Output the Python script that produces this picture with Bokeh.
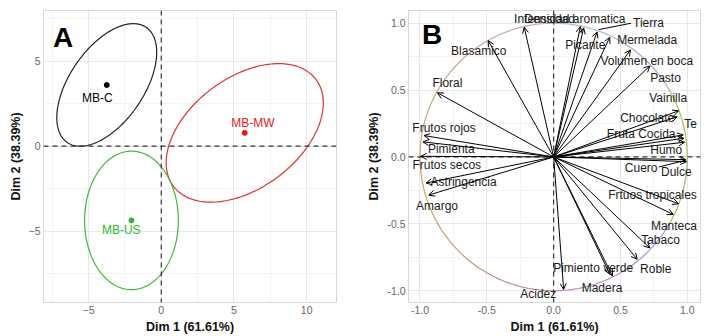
import numpy as np
from bokeh.plotting import figure
from bokeh.models import (ColumnDataSource, Span, Label, Arrow, OpenHead,
                          Range1d, FixedTicker)
from bokeh.layouts import row
from bokeh.embed import file_html
from bokeh.resources import INLINE
from bokeh.core.properties import value

# ---------------- Panel A data (individuals) ----------------
groups = ["MB-C", "MB-MW", "MB-US"]
dim1 = [-3.75, 5.74, -2.05]
dim2 = [3.6, 0.78, -4.37]
ell_sxx = [11.8, 29.2, 10.4]
ell_syy = [13.0, 16.6, 16.6]
ell_sxy = [6.6, 9.5, 0.0]
group_label_x = [-4.4, 6.3, -2.75]
group_label_y = [2.85, 1.35, -4.95]
group_colors = ["#000000", "#E41A1C", "#2EB82E"]
ell_colors = ["#222222", "#E03030", "#3CBB3C"]

# ---------------- Panel B data (variables) ----------------
variables = ["Intensidad aromatica", "Densidad", "Picante", "Tierra", "Mermelada",
             "Volumen en boca", "Pasto", "Vainilla", "Chocolate", "Te",
             "Fruta Cocida", "Humo", "Cuero", "Dulce", "Frtuos tropicales",
             "Manteca", "Tabaco", "Roble", "Madera", "Pimiento verde", "Acidez",
             "Amargo", "Astringencia", "Frutos secos", "Pimienta", "Frutos rojos",
             "Floral", "Blasamico"]
var_x = [0.20, -0.22, 0.225, 0.325, 0.42, 0.575, 0.72, 0.935, 0.925, 0.97,
         0.975, 0.98, 0.99, 0.995, 0.935, 0.895, 0.72, 0.625, 0.44, 0.42, 0.075,
         -0.935, -0.955, -0.995, -0.978, -0.97, -0.87, -0.49]
var_y = [0.975, 0.97, 0.965, 0.935, 0.895, 0.80, 0.68, 0.345, 0.30, 0.165,
         0.14, 0.11, -0.02, -0.035, -0.35, -0.43, -0.68, -0.765, -0.89, -0.875, -0.99,
         -0.285, -0.195, 0.005, 0.113, 0.16, 0.48, 0.87]
var_label_x = [0.121, -0.03, 0.237, 0.71, 0.70, 0.697, 0.837, 0.857, 0.70, 1.024,
               0.655, 0.843, 0.655, 0.918, 0.74, 0.90, 0.80, 0.764, 0.362, 0.296, -0.115,
               -0.873, -0.674, -0.80, -0.766, -0.82, -0.795, -0.56]
var_label_y = [1.035, 1.035, 0.839, 1.0, 0.877, 0.714, 0.589, 0.443, 0.293, 0.243,
               0.168, 0.05, -0.083, -0.113, -0.283, -0.514, -0.62, -0.84, -0.977, -0.827, -1.028,
               -0.368, -0.19, -0.063, 0.06, 0.22, 0.55, 0.79]
# repel connector segments (label -> point)
seg_x0 = [0.337, 0.787]
seg_y0 = [0.952, -0.075]
seg_x1 = [0.58, 0.987]
seg_y1 = [1.0, -0.025]

FONT = "Liberation Sans"
GRID_MAJOR = "#E8E8E8"
GRID_MINOR = "#F3F3F3"
BORDER = "#D6D6D6"
H = 336


def style(p, ticks, minor, xlabel, ylabel):
    for ax, tks in ((p.xaxis[0], ticks[0]), (p.yaxis[0], ticks[1])):
        ax.ticker = FixedTicker(ticks=tks)
        ax.axis_line_color = None
        ax.major_tick_line_color = None
        ax.minor_tick_line_color = None
        ax.major_tick_out = 0
        ax.major_tick_in = 0
        ax.minor_tick_out = 0
        ax.minor_tick_in = 0
        ax.major_label_text_font = FONT
        ax.major_label_text_font_size = "10.5px"
        ax.major_label_text_color = "#666666"
        ax.major_label_standoff = 3
        ax.axis_label_text_font = FONT
        ax.axis_label_text_font_size = "12.5px"
        ax.axis_label_text_font_style = "bold"
        ax.axis_label_text_color = "#111111"
        ax.axis_label_standoff = 3
    p.xaxis[0].axis_label = xlabel
    p.yaxis[0].axis_label = ylabel
    p.xgrid.ticker = FixedTicker(ticks=ticks[0], minor_ticks=minor[0])
    p.ygrid.ticker = FixedTicker(ticks=ticks[1], minor_ticks=minor[1])
    for g in (p.xgrid[0], p.ygrid[0]):
        g.grid_line_color = GRID_MAJOR
        g.grid_line_width = 1
        g.minor_grid_line_color = GRID_MINOR
        g.minor_grid_line_width = 1
    p.outline_line_color = BORDER
    p.outline_line_width = 1
    p.background_fill_color = "white"
    p.border_fill_color = "white"


# ---------------- Panel A ----------------
pA = figure(width=360, height=H, x_range=Range1d(-8.1, 12.05),
            y_range=Range1d(-9.2, 7.98), output_backend="svg",
            toolbar_location=None, min_border_left=43, min_border_right=24,
            min_border_top=10, min_border_bottom=32)
style(pA, ([-5, 0, 5, 10], [-5, 0, 5]), ([-7.5, -2.5, 2.5, 7.5], [-7.5, -2.5, 2.5, 7.5]),
      "Dim 1 (61.61%)", "Dim 2 (38.39%)")

t = np.linspace(0, 2 * np.pi, 200)
for i in range(len(groups)):
    S = np.array([[ell_sxx[i], ell_sxy[i]], [ell_sxy[i], ell_syy[i]]])
    L = np.linalg.cholesky(S)
    pts = L @ np.vstack([np.cos(t), np.sin(t)])
    pA.line(dim1[i] + pts[0], dim2[i] + pts[1], line_color=ell_colors[i], line_width=1.2)

for loc, dim in ((0, "height"), (0, "width")):
    pA.add_layout(Span(location=loc, dimension=dim, line_color="#333333",
                       line_dash="5 4", line_width=1.2))

srcA = ColumnDataSource(dict(x=dim1, y=dim2, lx=group_label_x, ly=group_label_y,
                             name=groups, color=group_colors))
pA.scatter("x", "y", source=srcA, size=5, color="color")
pA.text("lx", "ly", text="name", source=srcA, text_color="color",
        text_font=value(FONT), text_font_size="12px", text_align="center",
        text_baseline="middle")
pA.add_layout(Label(x=-7.45, y=7.3, text="A", text_font=FONT, text_font_size="28px",
                    text_font_style="bold", text_baseline="top", text_color="black"))

# ---------------- Panel B ----------------
pB = figure(width=351, height=H, x_range=Range1d(-1.086, 1.099),
            y_range=Range1d(-1.088, 1.095), output_backend="svg",
            toolbar_location=None, min_border_left=48, min_border_right=11,
            min_border_top=10, min_border_bottom=32)
tk = [-1.0, -0.5, 0.0, 0.5, 1.0]
mn = [-0.75, -0.25, 0.25, 0.75]
style(pB, (tk, tk), (mn, mn), "Dim 1 (61.61%)", "Dim 2 (38.39%)")
pB.xaxis[0].major_label_overrides = {-1.0: "-1.0", -0.5: "-0.5", 0.0: "0.0", 0.5: "0.5", 1.0: "1.0"}
pB.yaxis[0].major_label_overrides = {-1.0: "-1.0", -0.5: "-0.5", 0.0: "0.0", 0.5: "0.5", 1.0: "1.0"}

arc_colors = ["#A9C050", "#9AB0C8", "#A8B8D0", "#C8A8B4", "#C4A890", "#B8B070",
              "#C8A060", "#C09A6A", "#B8909C", "#C08CC0", "#A890D0", "#98BC5C"]
n_arcs = len(arc_colors)
for k in range(n_arcs):
    a = np.linspace(2 * np.pi * k / n_arcs, 2 * np.pi * (k + 1) / n_arcs, 30)
    pB.line(np.cos(a), np.sin(a), line_color=arc_colors[k], line_width=1.2)

for loc, dim in ((0, "height"), (0, "width")):
    pB.add_layout(Span(location=loc, dimension=dim, line_color="#333333",
                       line_dash="5 4", line_width=1.2))

srcB = ColumnDataSource(dict(x0=[0.0] * len(variables), y0=[0.0] * len(variables),
                             x=var_x, y=var_y, lx=var_label_x, ly=var_label_y,
                             name=variables))
pB.add_layout(Arrow(end=OpenHead(size=6, line_width=1, line_color="black"),
                    x_start="x0", y_start="y0", x_end="x", y_end="y",
                    source=srcB, line_color="black", line_width=1))
pB.segment(seg_x0, seg_y0, seg_x1, seg_y1, line_color="black", line_width=1)
pB.text("lx", "ly", text="name", source=srcB, text_color="#1A1A1A",
        text_font=value(FONT), text_font_size="12px", text_align="center",
        text_baseline="middle")
pB.add_layout(Label(x=-0.985, y=1.035, text="B", text_font=FONT, text_font_size="28px",
                    text_font_style="bold", text_baseline="top", text_color="black"))

layout = row(pA, pB)
open("out.html", "w").write(file_html(layout, INLINE))
